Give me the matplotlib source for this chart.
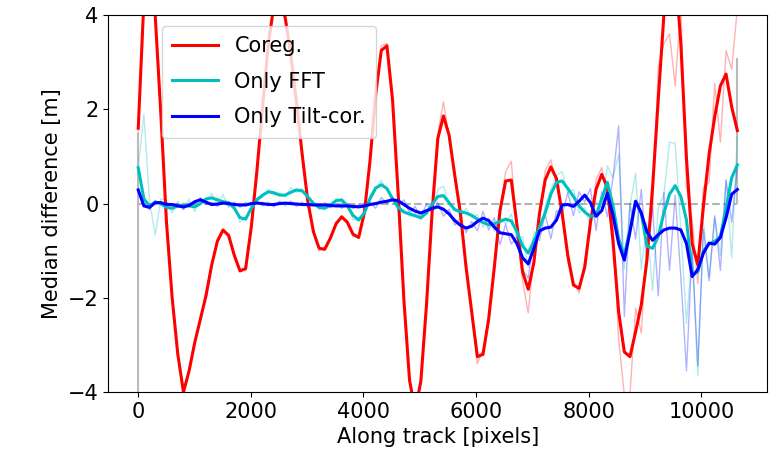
import numpy as np
import matplotlib
matplotlib.use("Agg")
import matplotlib.pyplot as plt

# ----------------------------
# DATA (one value every ~100 px along track)
# ----------------------------
x = np.linspace(0, 10640, 107)

coreg = [
    1.6, 4.3, 5.0, 4.0, 1.9, -0.4, -2.0, -3.2, -4.0, -3.55,
    -2.95, -2.45, -1.95, -1.3, -0.8, -0.56, -0.68, -1.1, -1.43, -1.38,
    -0.5, 0.7, 2.05, 3.37, 4.21, 4.38, 3.95, 3.15, 2.15, 1.05,
    0.05, -0.6, -0.95, -0.97, -0.73, -0.43, -0.28, -0.4, -0.65, -0.72,
    -0.2, 0.9, 2.3, 3.25, 3.35, 2.19, 0.19, -2.04, -3.75, -4.4,
    -3.77, -2.15, -0.17, 1.38, 1.86, 1.45, 0.6, -0.2, -1.35, -2.3,
    -3.25, -3.2, -2.45, -1.35, -0.15, 0.48, 0.5, -0.45, -1.45, -1.82,
    -1.25, -0.2, 0.5, 0.78, 0.53, -0.21, -1.1, -1.73, -1.8, -1.35,
    -0.4, 0.3, 0.62, 0.35, -0.8, -2.3, -3.15, -3.25, -2.72, -2.15,
    -1.2, 0.35, 2.2, 4.0, 5.1, 5.0, 3.4, 0.95, -0.85, -1.3,
    -0.05, 1.05, 1.85, 2.5, 2.75, 2.05, 1.55,
]

only_fft = [
    0.76, 0.1, -0.05, 0.03, 0.0, -0.08, -0.1, -0.05, -0.03, -0.05,
    -0.07, 0.0, 0.1, 0.12, 0.08, 0.04, 0.02, -0.1, -0.3, -0.33,
    -0.1, 0.08, 0.18, 0.25, 0.23, 0.18, 0.18, 0.24, 0.29, 0.27,
    0.15, 0.0, -0.08, -0.1, -0.03, 0.06, 0.08, -0.05, -0.25, -0.35,
    -0.2, 0.1, 0.33, 0.4, 0.32, 0.1, -0.08, -0.18, -0.22, -0.26,
    -0.3, -0.2, -0.02, 0.15, 0.17, 0.02, -0.13, -0.17, -0.2, -0.25,
    -0.33, -0.4, -0.45, -0.43, -0.38, -0.33, -0.37, -0.6, -0.9, -1.05,
    -0.8, -0.5, -0.2, 0.2, 0.45, 0.48, 0.32, 0.15, -0.05, -0.18,
    -0.27, -0.25, 0.1, 0.45, -0.05, -0.75, -1.1, -0.55, 0.05, -0.2,
    -0.9, -0.95, -0.7, -0.2, 0.2, 0.38, 0.15, -0.35, -1.5, -1.45,
    -1.0, -0.86, -0.8, -0.7, -0.1, 0.55, 0.82,
]

only_tilt = [
    0.29, -0.05, -0.08, 0.02, 0.02, -0.02, -0.02, -0.05, -0.07, -0.04,
    0.04, 0.08, 0.03, -0.02, -0.01, 0.01, 0.0, -0.02, -0.03, -0.03,
    0.0, 0.01, 0.0, -0.02, -0.02, 0.0, 0.01, 0.0, -0.01, -0.02,
    -0.02, -0.03, -0.03, -0.03, -0.04, -0.05, -0.05, -0.05, -0.06, -0.07,
    -0.05, -0.02, 0.0, 0.03, 0.05, 0.08, 0.06, -0.02, -0.1, -0.16,
    -0.2, -0.15, -0.1, -0.07, -0.12, -0.22, -0.36, -0.46, -0.52, -0.48,
    -0.38, -0.31, -0.36, -0.5, -0.62, -0.64, -0.66, -0.85, -1.15, -1.28,
    -0.95, -0.58, -0.52, -0.5, -0.35, -0.03, -0.02, -0.06, 0.05, 0.18,
    0.02, -0.27, -0.15, 0.22, -0.25, -0.85, -1.2, -0.6, 0.05, -0.2,
    -0.6, -0.78, -0.66, -0.56, -0.52, -0.52, -0.56, -0.85, -1.55, -1.4,
    -1.05, -0.84, -0.86, -0.72, -0.3, 0.2, 0.3,
]

# scatter of the unsmoothed medians around the smooth curves
coreg_resid = [
    -0.1, 0.2, 0.1, 0.05, -0.05, 0.05, -0.05, 0.05, -0.1, 0.05,
    0.05, -0.05, 0.1, -0.05, 0.05, -0.05, 0.05, -0.05, 0.05, -0.05,
    0.05, -0.05, 0.05, -0.05, 0.1, 0.1, -0.05, 0.05, -0.05, 0.05,
    -0.05, 0.05, -0.05, 0.05, -0.05, 0.05, -0.05, 0.05, -0.05, 0.05,
    -0.05, 0.05, -0.05, 0.1, 0.05, -0.05, 0.05, -0.05, 0.05, -0.1,
    0.05, -0.05, 0.05, 0.1, 0.3, -0.05, 0.05, -0.1, 0.1, -0.05,
    -0.15, 0.1, -0.1, 0.1, -0.1, 0.2, 0.4, -0.1, -0.2, -0.5,
    0.15, -0.1, 0.2, 0.15, -0.1, 0.1, -0.15, 0.1, -0.1, 0.15,
    -0.2, 0.2, 0.15, -0.3, 0.4, -0.6, -0.9, -0.8, 0.5, -0.6,
    0.4, -0.5, 0.7, -0.6, -1.5, -2.5, 0.8, -0.6, 0.5, -0.4,
    0.4, -0.6, 0.7, -1.2, 0.5, 0.8, 2.6,
]

fft_resid = [
    0.0, 1.8, 0.1, -0.7, 0.1, 0.15, -0.1, 0.1, -0.1, 0.15,
    -0.1, 0.1, -0.05, 0.1, -0.1, 0.15, -0.1, 0.1, -0.1, 0.05,
    -0.05, 0.05, -0.05, 0.05, -0.05, 0.05, -0.05, 0.1, -0.05, 0.05,
    -0.05, 0.05, -0.05, 0.05, -0.05, 0.05, -0.05, 0.05, -0.1, 0.05,
    -0.05, 0.1, -0.05, 0.1, -0.05, 0.05, -0.1, 0.05, -0.05, 0.05,
    -0.05, 0.05, -0.1, 0.15, 0.2, -0.05, 0.05, -0.1, 0.1, -0.05,
    0.1, -0.1, 0.15, -0.15, 0.1, -0.1, 0.15, -0.15, 0.2, -0.3,
    0.2, -0.15, 0.15, 0.1, 0.15, 0.2, -0.1, 0.15, -0.15, 0.1,
    -0.2, 0.3, -0.2, 0.35, 0.6, 1.8, -0.3, 0.5, 0.6, -1.2,
    0.5, -0.9, 0.6, 0.4, 1.1, 0.9, -0.7, -2.2, 0.5, -2.2,
    0.6, -0.7, 0.5, -0.4, 0.6, -1.7, 0.6,
]

tilt_resid = [
    0.0, 0.05, -0.05, 0.05, -0.05, 0.05, -0.05, 0.05, -0.05, 0.05,
    -0.05, 0.05, -0.05, 0.05, -0.05, 0.05, -0.05, 0.05, -0.05, 0.05,
    -0.05, 0.05, -0.05, 0.05, -0.05, 0.05, -0.05, 0.05, -0.05, 0.05,
    -0.05, 0.05, -0.05, 0.05, -0.05, 0.05, -0.05, 0.05, -0.05, 0.05,
    -0.05, 0.05, -0.1, 0.1, -0.05, 0.05, -0.1, 0.1, -0.1, 0.1,
    -0.1, 0.15, -0.1, 0.1, -0.15, 0.1, -0.1, 0.15, -0.1, 0.1,
    -0.2, 0.15, -0.2, 0.2, -0.25, 0.2, -0.2, 0.15, -0.25, -0.3,
    0.2, -0.2, 0.3, -0.25, 0.2, -0.2, 0.25, -0.2, 0.2, -0.15,
    0.3, -0.3, 0.4, -0.5, 0.8, 2.5, -1.2, 0.6, -0.8, 0.5,
    -0.6, 0.7, -1.3, 0.8, -0.9, 0.7, -1.0, -2.7, 0.6, -2.05,
    0.5, -0.8, 0.6, -0.7, 0.8, -0.6, 0.5,
]

# grey edge spikes at the first and last sample
edge_lo = [-5.0, 0.0]
edge_hi = [1.5, 3.1]

labels = ["Coreg.", "Only FFT", "Only Tilt-cor."]
colors = ["red", "c", "blue"]

# ----------------------------
# PLOT
# ----------------------------
plt.rcParams["font.size"] = 15

smooth = [np.array(coreg), np.array(only_fft), np.array(only_tilt)]
resid = [np.array(coreg_resid), np.array(fft_resid), np.array(tilt_resid)]

fig = plt.figure(figsize=(7.79, 4.74), dpi=100)
ax = fig.add_axes([0.139, 0.173, 0.846, 0.795])

ax.hlines(0, x[0], x[-1], colors="grey", linestyles="--", alpha=0.6, lw=1.5)
ax.vlines([x[0], x[-1]], edge_lo, edge_hi, colors="#bbbbbb", lw=1.5)

for s, r, c in zip(smooth, resid, colors):
    ax.plot(x, s + r, color=c, alpha=0.3, lw=1)

for s, c, lab in zip(smooth, colors, labels):
    ax.plot(x, s, color=c, lw=2.2, label=lab)

ax.set_ylim(-4, 4)
ax.set_yticks([-4, -2, 0, 2, 4])
ax.set_xticks(np.arange(0, 10001, 2000))
ax.set_xlabel("Along track [pixels]")
ax.set_ylabel("Median difference [m]")
ax.legend(loc="upper left", bbox_to_anchor=(0.065, 1.0), labelspacing=0.75,
          handlelength=2.2, borderpad=0.5)

plt.savefig("out.png", dpi=100)
